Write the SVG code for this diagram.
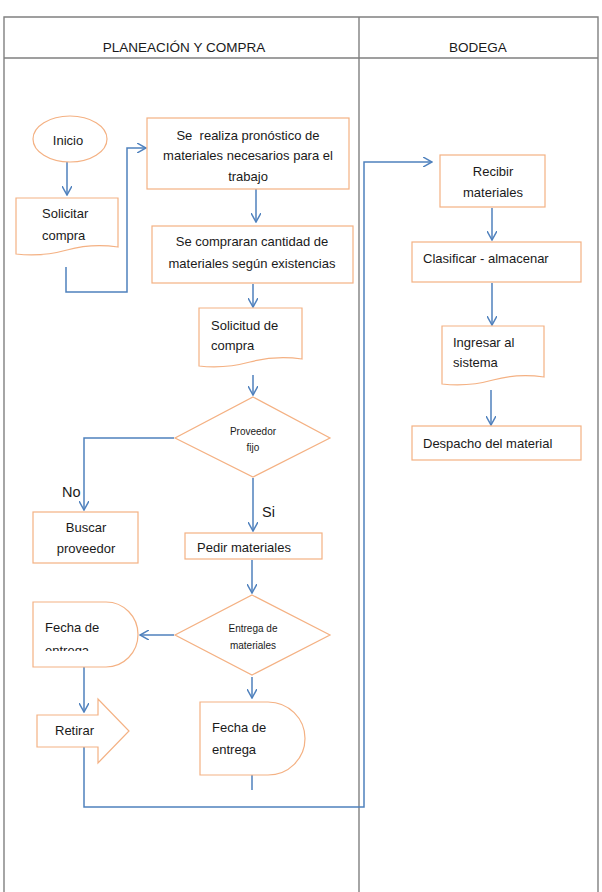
<svg xmlns="http://www.w3.org/2000/svg" width="602" height="892" viewBox="0 0 602 892">
<style>
.tb{stroke:#808080;stroke-width:1.4;fill:none}
.nd{fill:#fff;stroke:#F4B183;stroke-width:1.2}
.cn{fill:none;stroke:#4F81BD;stroke-width:1.5}
.t{font-family:"Liberation Sans",Arial,sans-serif;font-size:13px;fill:#1a1a1a;white-space:pre}
.c{text-anchor:middle}
.s{font-size:10px}
.h{font-size:13.5px}
.l{font-size:14.5px}
</style>
<defs>
<marker id="ar" viewBox="0 0 10 10" refX="9" refY="5" markerWidth="10" markerHeight="10" markerUnits="userSpaceOnUse" orient="auto">
<path d="M0,0 L9,5 L0,10" fill="none" stroke="#4F81BD" stroke-width="1.5"/>
</marker>
<clipPath id="clipF"><rect x="30" y="600" width="120" height="51"/></clipPath>
</defs>
<rect width="602" height="892" fill="#fff"/>
<g id="table">
<path class="tb" d="M4,892 V17 H598 V892 M4,58 H598 M359,17 V892"/>
<text class="t c h" x="184" y="52">PLANEACIÓN Y COMPRA</text>
<text class="t c h" x="478" y="52">BODEGA</text>
</g>
<g id="connectors">
<path class="cn" d="M67,162 V195" marker-end="url(#ar)"/>
<path class="cn" d="M66,267 V292 H127 V148 H146" marker-end="url(#ar)"/>
<path class="cn" d="M256,189 V222" marker-end="url(#ar)"/>
<path class="cn" d="M253,284 V307" marker-end="url(#ar)"/>
<path class="cn" d="M253,375 V395" marker-end="url(#ar)"/>
<path class="cn" d="M174,438 H84 V510" marker-end="url(#ar)"/>
<path class="cn" d="M253,478 V531" marker-end="url(#ar)"/>
<path class="cn" d="M252,560 V593" marker-end="url(#ar)"/>
<path class="cn" d="M174,635 H140" marker-end="url(#ar)"/>
<path class="cn" d="M252,677 V698" marker-end="url(#ar)"/>
<path class="cn" d="M84,667 V712" marker-end="url(#ar)"/>
<path class="cn" d="M84,747 V807 H364 V162 H432" marker-end="url(#ar)"/>
<path class="cn" d="M252,775 V790"/>
<path class="cn" d="M492,208 V240" marker-end="url(#ar)"/>
<path class="cn" d="M492,283 V325" marker-end="url(#ar)"/>
<path class="cn" d="M491,390 V425" marker-end="url(#ar)"/>
<text class="t l" x="62" y="497">No</text>
<text class="t l" x="262" y="517">Si</text>
</g>
<g id="inicio">
<ellipse class="nd" cx="70" cy="139" rx="37" ry="23"/>
<text class="t c" x="68" y="144.5">Inicio</text>
</g>
<g id="solicitar">
<path class="nd" d="M16,198 H118 V247 Q92,243 67,250 T16,254 Z"/>
<text class="t" x="42" y="218">Solicitar</text>
<text class="t" x="42" y="240">compra</text>
</g>
<g id="pronostico">
<rect class="nd" x="147" y="118" width="202" height="71"/>
<text class="t c" x="248" y="139.5" xml:space="preserve">Se  realiza pronóstico de</text>
<text class="t c" x="248" y="160">materiales necesarios para el</text>
<text class="t c" x="248" y="180.5">trabajo</text>
</g>
<g id="compraran">
<rect class="nd" x="152" y="226" width="201" height="57"/>
<text class="t c" x="252" y="246">Se compraran cantidad de</text>
<text class="t c" x="252" y="268">materiales según existencias</text>
</g>
<g id="solicitud">
<path class="nd" d="M199,308 H302 V359 Q276,355 250,362 T199,366 Z"/>
<text class="t" x="211" y="329.5">Solicitud de</text>
<text class="t" x="211" y="349.5">compra</text>
</g>
<g id="proveedor">
<path class="nd" d="M253,397 L330,438 L253,477 L175,438 Z"/>
<text class="t c s" x="253" y="434.5">Proveedor</text>
<text class="t c s" x="253" y="450.5">fijo</text>
</g>
<g id="buscar">
<rect class="nd" x="33" y="512" width="105" height="51"/>
<text class="t c" x="86" y="531.5">Buscar</text>
<text class="t c" x="86" y="552.5">proveedor</text>
</g>
<g id="pedir">
<rect class="nd" x="185" y="533" width="137" height="26"/>
<text class="t" x="197" y="552">Pedir materiales</text>
</g>
<g id="entrega">
<path class="nd" d="M252,595 L330,635 L252,675 L175,635 Z"/>
<text class="t c s" x="253" y="631.5">Entrega de</text>
<text class="t c s" x="253" y="648.5">materiales</text>
</g>
<g id="fecha1">
<path class="nd" d="M33,602 H106 A32,32.5 0 0 1 106,667 H33 Z"/>
<text class="t" x="45" y="631.5">Fecha de</text>
<text class="t" x="45" y="655" clip-path="url(#clipF)">entrega</text>
</g>
<g id="retirar">
<path class="nd" d="M37,715 H98 V699 L129,731 L98,763 V747 H37 Z"/>
<text class="t" x="55" y="734.5">Retirar</text>
</g>
<g id="fecha2">
<path class="nd" d="M200,702 H268 A37,36.5 0 0 1 268,775 H200 Z"/>
<text class="t" x="212" y="731.5">Fecha de</text>
<text class="t" x="212" y="753.5">entrega</text>
</g>
<g id="recibir">
<rect class="nd" x="440" y="155" width="105" height="52"/>
<text class="t c" x="493" y="175.5">Recibir</text>
<text class="t c" x="493" y="196.5">materiales</text>
</g>
<g id="clasificar">
<rect class="nd" x="412" y="242" width="169" height="40"/>
<text class="t" x="423" y="262.5">Clasificar - almacenar</text>
</g>
<g id="ingresar">
<path class="nd" d="M442,326 H544 V377 Q518,373 493,380 T442,384 Z"/>
<text class="t" x="453" y="346.5">Ingresar al</text>
<text class="t" x="453" y="366.5">sistema</text>
</g>
<g id="despacho">
<rect class="nd" x="412" y="426" width="169" height="34"/>
<text class="t" x="423" y="447.5">Despacho del material</text>
</g>
</svg>
